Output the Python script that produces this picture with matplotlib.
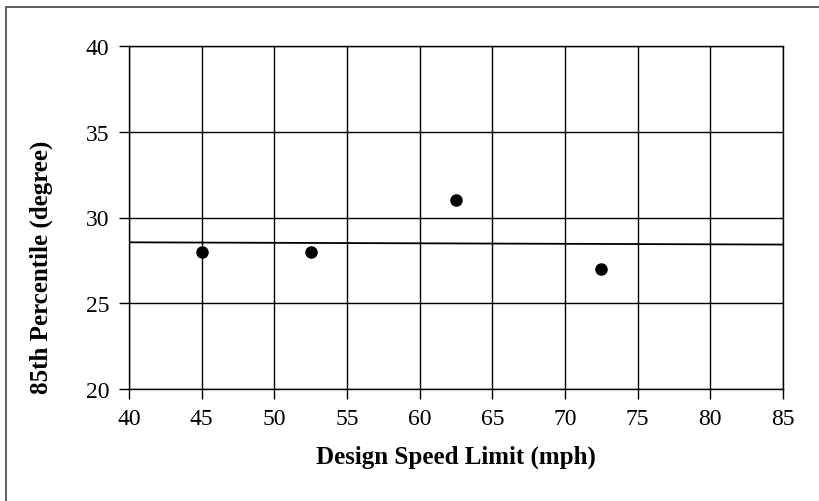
import numpy as np
import matplotlib.pyplot as plt
from matplotlib.patches import Rectangle

speed = [45.0, 52.5, 62.5, 72.5]
p85 = [28.0, 28.0, 31.0, 27.0]

plt.rcParams['font.family'] = ['Liberation Serif', 'DejaVu Serif']

fig = plt.figure(figsize=(8.2, 5.02), dpi=100)
ax = fig.add_axes([129/820, 1-390/502, (783-129)/820, (390-47)/502])

# linear trend through the points
coef = np.polyfit(speed, p85, 1)
xt = np.array([40, 85])
ax.plot(xt, np.polyval(coef, xt), c='k', lw=1.3, zorder=3)

ax.scatter(speed, p85, s=64, c='k', zorder=4)

ax.set_xlim(40, 85)
ax.set_ylim(20, 40)
ax.set_xticks(np.arange(40, 86, 5))
ax.set_yticks(np.arange(20, 41, 5))
ax.grid(True, c='k', lw=1.0)
ax.set_axisbelow(True)
for s in ax.spines.values():
    s.set_linewidth(1.0)
ax.tick_params(labelsize=17, length=7, width=1.0, pad=7)

ax.set_xlabel('Design Speed Limit (mph)', fontsize=18, fontweight='bold')
ax.set_ylabel('85th Percentile (degree)', fontsize=18, fontweight='bold')
ax.xaxis.set_label_coords(0.5, -56/343)
ax.yaxis.set_label_coords(-76/654, 0.359)

fig.patches.append(Rectangle((6/820, -0.05), 1.1, 1.05-8/502, transform=fig.transFigure,
                             fill=False, ec='#444444', lw=1.2))

plt.savefig('out.png')
